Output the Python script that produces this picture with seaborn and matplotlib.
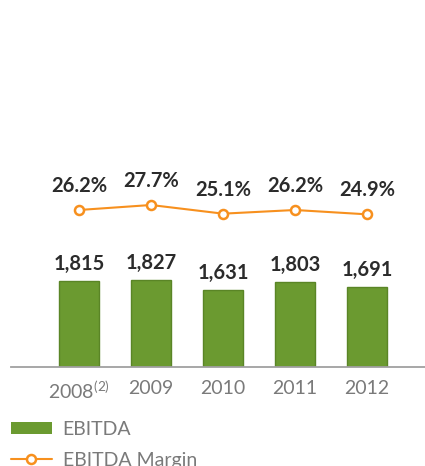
import numpy as np
import pandas as pd
import matplotlib.pyplot as plt
from matplotlib.patches import Patch
from matplotlib.lines import Line2D
import seaborn as sns

# data
years = ["2008", "2009", "2010", "2011", "2012"]
tick_labels = ["2008$^{(2)}$", "2009", "2010", "2011", "2012"]
ebitda = [1815, 1827, 1631, 1803, 1691]
margin = [26.2, 27.7, 25.1, 26.2, 24.9]

GREEN = "#6b9a30"
ORANGE = "#f7901e"
DARK = "#2b2b2b"
GREY = "#7a7a7a"

sns.set_theme(style="white")
plt.rcParams["font.family"] = ["Lato", "DejaVu Sans"]
plt.rcParams["mathtext.default"] = "regular"

df = pd.DataFrame({"year": years, "ebitda": ebitda, "margin": margin})

fig = plt.figure(figsize=(4.25, 4.66), dpi=100)
ax = fig.add_axes([11 / 425, 99 / 466, 414 / 425, 367 / 466])

sns.barplot(data=df, x="year", y="ebitda", color=GREEN, width=0.556,
            saturation=1, edgecolor="#5a8526", linewidth=1, ax=ax)
ax.bar_label(ax.containers[0], labels=[f"{v:,}" for v in ebitda], padding=5,
             fontsize=14.5, fontweight="bold", color=DARK)

ax2 = ax.twinx()
sns.pointplot(data=df, x="year", y="margin", color=ORANGE, markers="o",
              markersize=6.5, linewidth=1.5, markerfacecolor="white",
              markeredgewidth=1.8, ax=ax2)
for i, m in enumerate(margin):
    ax2.annotate(f"{m:.1f}%", (i, m), xytext=(0, 10), textcoords="offset points",
                 ha="center", va="bottom", fontsize=14.5, fontweight="bold",
                 color=DARK)

ax.set_ylim(0, 7740)
ax2.set_ylim(-20.9, 89.2)
ax.set_xlim(-0.944, 4.806)

for a in (ax, ax2):
    for s in ("top", "right", "left"):
        a.spines[s].set_visible(False)
    a.set_yticks([])
    a.set_ylabel("")
    a.set_xlabel("")
    a.grid(False)
ax2.spines["bottom"].set_visible(False)
ax.spines["bottom"].set_color("#a0a0a0")
ax.spines["bottom"].set_linewidth(1.3)

ax.set_xticks(range(len(years)))
ax.set_xticklabels(tick_labels, fontsize=14, color=GREY)
ax.tick_params(axis="x", which="major", length=0, pad=9)
ax.set_xticks([-0.944], minor=True)
ax.tick_params(axis="x", which="minor", length=7, width=1.3, color="#a0a0a0")

handles = [Patch(facecolor=GREEN, edgecolor="none"),
           Line2D([0], [0], color=ORANGE, lw=1.5, marker="o", markersize=6.5,
                  markerfacecolor="white", markeredgewidth=1.8)]
fig.legend(handles, ["EBITDA", "EBITDA Margin"], loc="upper left",
           bbox_to_anchor=(11 / 425, 45 / 466), frameon=False,
           handlelength=2.1, handleheight=0.6, handletextpad=0.55,
           labelspacing=0.7, borderpad=0.0, borderaxespad=0.0,
           labelcolor=GREY, prop={"size": 14})

fig.savefig("out.png", dpi=100)
